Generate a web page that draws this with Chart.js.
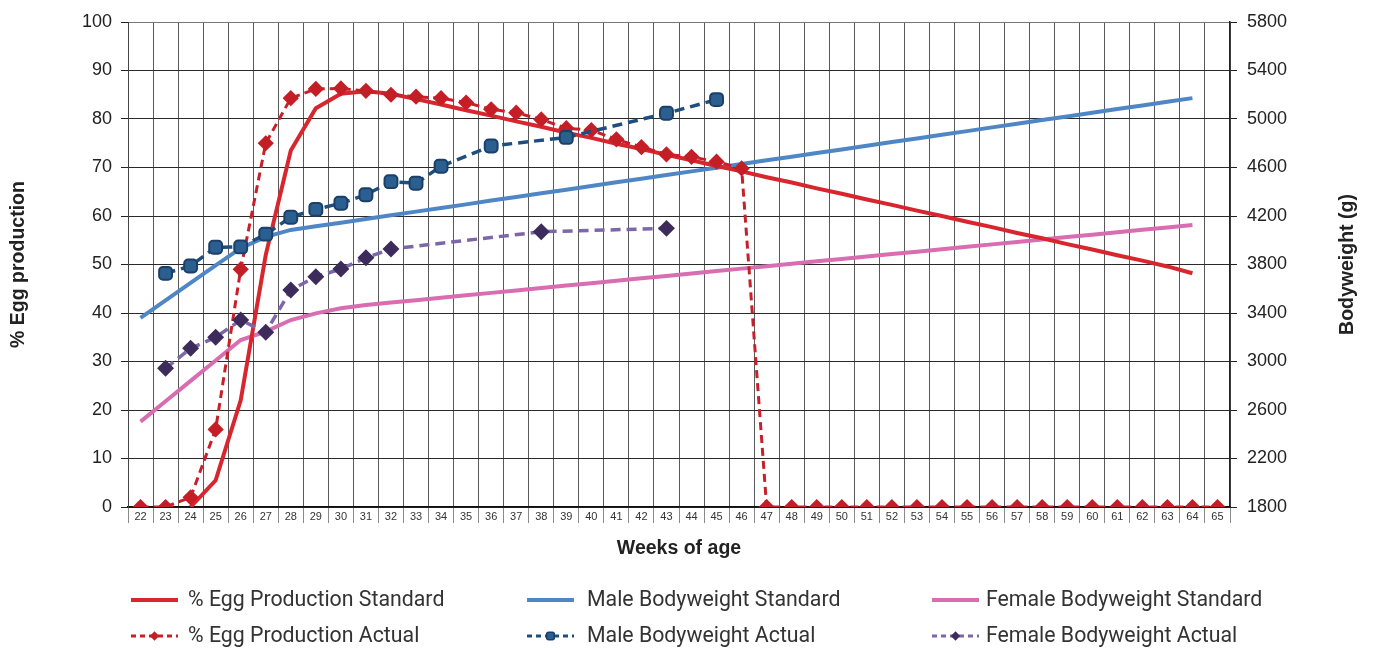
<!DOCTYPE html>
<html>
<head>
<meta charset="utf-8">
<script src="https://cdn.jsdelivr.net/npm/chart.js@4.4.1/dist/chart.umd.min.js"></script>
<style>
  html, body { margin: 0; padding: 0; background: #ffffff; }
  #wrap { width: 1375px; height: 648px; }
</style>
</head>
<body>
<div id="wrap"><canvas id="c" width="1375" height="648"></canvas></div>
<script>
const weeks = ['22','23','24','25','26','27','28','29','30','31','32','33','34','35','36','37','38','39','40','41','42','43','44','45','46','47','48','49','50','51','52','53','54','55','56','57','58','59','60','61','62','63','64','65'];

const eggStandard = [null,null,0,5.5,22,52,73.5,82.2,85.2,85.7,85.2,84.1,83.0,81.8,80.7,79.5,78.4,77.2,76.1,74.9,73.8,72.6,71.5,70.3,69.2,68.0,66.9,65.7,64.6,63.4,62.3,61.1,60.0,58.8,57.7,56.5,55.4,54.2,53.1,51.9,50.8,49.6,48.2,null];

const eggActual = [0,0,2,16,49,75,84.3,86.2,86.3,85.8,85.0,84.6,84.3,83.4,82.0,81.3,79.9,78.1,77.7,75.8,74.2,72.7,72.2,71.2,69.8,0,0,0,0,0,0,0,0,0,0,0,0,0,0,0,0,0,0,0];

const maleStandard = [3360,3505,3648,3792,3935,4028,4085,4115,4145,4176,4206,4236,4266,4296,4327,4357,4387,4417,4447,4478,4508,4538,4568,4598,4629,4659,4689,4719,4749,4780,4810,4840,4870,4900,4931,4961,4991,5021,5051,5082,5112,5142,5172,null];

const maleActual = [null,3727,3788,3942,3945,4050,4190,4255,4305,4375,4483,4470,4610,null,4777,null,null,4848,null,null,null,5047,null,5160,null,null,null,null,null,null,null,null,null,null,null,null,null,null,null,null,null,null,null,null];

const femaleStandard = [2504,2672,2840,3008,3177,3246,3342,3397,3439,3466,3486,3506,3526,3546,3566,3586,3606,3626,3646,3666,3686,3706,3726,3746,3766,3786,3806,3826,3846,3866,3886,3906,3926,3946,3966,3986,4006,4026,4046,4066,4086,4106,4126,null];

const femaleActual = [null,2944,3109,3200,3342,3241,3590,3699,3763,3855,3928,null,null,null,null,null,4070,null,null,null,null,4098,null,null,null,null,null,null,null,null,null,null,null,null,null,null,null,null,null,null,null,null,null,null];

const seriesLabels = ['% Egg Production Standard','Male Bodyweight Standard','Female Bodyweight Standard','% Egg Production Actual','Male Bodyweight Actual','Female Bodyweight Actual'];

const FONT = '"Liberation Sans", Arial, sans-serif';

function drawMarker(ctx, style, x, y, r, fill, stroke) {
  ctx.beginPath();
  if (style === 'rectRot') {
    ctx.moveTo(x - r, y); ctx.lineTo(x, y - r); ctx.lineTo(x + r, y); ctx.lineTo(x, y + r); ctx.closePath();
  } else {
    const h = r * 0.85, c = r * 0.45;
    ctx.moveTo(x - h + c, y - h);
    ctx.arcTo(x + h, y - h, x + h, y + h, c);
    ctx.arcTo(x + h, y + h, x - h, y + h, c);
    ctx.arcTo(x - h, y + h, x - h, y - h, c);
    ctx.arcTo(x - h, y - h, x + h, y - h, c);
    ctx.closePath();
  }
  ctx.fillStyle = fill; ctx.fill();
  ctx.lineWidth = 1.5; ctx.strokeStyle = stroke; ctx.stroke();
}

const extrasPlugin = {
  id: 'extras',
  afterDraw(chart) {
    const ctx = chart.ctx;
    const cols = [[131, 188], [527, 587], [932, 986]];
    const rows = [600, 636];
    chart.data.datasets.forEach((ds, i) => {
      const lx = cols[i % 3][0], tx = cols[i % 3][1];
      const y = rows[Math.floor(i / 3)];
      ctx.save();
      ctx.strokeStyle = ds.borderColor;
      ctx.lineWidth = ds.legendLineWidth;
      ctx.setLineDash(ds.legendDash);
      ctx.beginPath(); ctx.moveTo(lx, y); ctx.lineTo(lx + 47, y); ctx.stroke();
      ctx.setLineDash([]);
      if (ds.pointRadius > 0) {
        drawMarker(ctx, ds.pointStyle, lx + 23.5, y, ds.pointRadius * 0.6, ds.pointBackgroundColor, ds.pointBorderColor);
      }
      ctx.fillStyle = '#333333';
      ctx.font = '21.3px Roboto, "Liberation Sans", sans-serif';
      ctx.textBaseline = 'middle';
      ctx.textAlign = 'left';
      ctx.fillText(ds.label, tx, y + 1);
      ctx.restore();
    });
    // right axis title (reads bottom-to-top)
    const ca = chart.chartArea;
    ctx.save();
    ctx.translate(1348, (ca.top + ca.bottom) / 2);
    ctx.rotate(-Math.PI / 2);
    ctx.font = 'bold 19.5px ' + FONT;
    ctx.fillStyle = '#222';
    ctx.textAlign = 'center';
    ctx.textBaseline = 'middle';
    ctx.fillText('Bodyweight (g)', 0, 0);
    ctx.restore();
  }
};

const datasets = [
  { label: seriesLabels[0], data: eggStandard, yAxisID: 'y', borderColor: '#d7262e', borderWidth: 4, pointRadius: 0, order: 3, legendLineWidth: 4, legendDash: [] },
  { label: seriesLabels[1], data: maleStandard, yAxisID: 'y1', borderColor: '#4f87c6', borderWidth: 4, pointRadius: 0, order: 4, legendLineWidth: 4, legendDash: [] },
  { label: seriesLabels[2], data: femaleStandard, yAxisID: 'y1', borderColor: '#d96db1', borderWidth: 4, pointRadius: 0, order: 5, legendLineWidth: 4, legendDash: [] },
  { label: seriesLabels[3], data: eggActual, yAxisID: 'y', borderColor: '#c8202a', borderWidth: 3, borderDash: [8, 5], pointStyle: 'rectRot', pointRadius: 6, pointBackgroundColor: '#c41e26', pointBorderColor: '#c41e26', order: 2, spanGaps: true, legendLineWidth: 3, legendDash: [5, 4] },
  { label: seriesLabels[4], data: maleActual, yAxisID: 'y1', borderColor: '#1f4e7e', borderWidth: 3.5, borderDash: [10, 6], pointStyle: 'rectRounded', pointRadius: 7.5, pointBackgroundColor: '#2b5f90', pointBorderColor: '#1b3f69', pointBorderWidth: 2, order: 1, spanGaps: true, legendLineWidth: 3, legendDash: [5, 4] },
  { label: seriesLabels[5], data: femaleActual, yAxisID: 'y1', borderColor: '#7d66aa', borderWidth: 3.5, borderDash: [10, 6], pointStyle: 'rectRot', pointRadius: 6, pointBackgroundColor: '#3d2b5c', pointBorderColor: '#3d2b5c', order: 0, spanGaps: true, legendLineWidth: 3, legendDash: [5, 4] }
];

new Chart(document.getElementById('c'), {
  type: 'line',
  data: { labels: weeks, datasets: datasets },
  options: {
    responsive: false,
    animation: false,
    devicePixelRatio: 1,
    layout: { padding: { top: 22, left: 0, right: 0, bottom: 0 } },
    elements: { line: { tension: 0 }, point: { hoverRadius: 6 } },
    plugins: { legend: { display: false }, tooltip: { enabled: false } },
    scales: {
      x: {
        type: 'category',
        offset: true,
        grid: { offset: true, color: '#5a5a5a', lineWidth: 1, tickLength: 16, tickColor: '#8a8a8a' },
        border: { display: true, color: '#111', width: 1.5 },
        ticks: { font: { family: FONT, size: 11 }, color: '#333', padding: -13, maxRotation: 0, autoSkip: false },
        title: { display: true, text: 'Weeks of age', font: { family: FONT, size: 19.5, weight: 'bold' }, color: '#222', padding: { top: 0, bottom: 88 } },
        afterFit(scale) { scale.height = 141; }
      },
      y: {
        position: 'left',
        min: 0, max: 100,
        ticks: { stepSize: 10, font: { family: FONT, size: 18 }, color: '#222', padding: 9 },
        grid: { color: (c) => c.tick && c.tick.value === 100 ? '#777' : '#2a2a2a', lineWidth: 1, tickLength: 7, tickColor: '#222' },
        border: { display: true, color: '#444', width: 1 },
        title: { display: true, text: '% Egg production', font: { family: FONT, size: 19.5, weight: 'bold' }, color: '#222', padding: { top: 7, bottom: 0 } },
        afterFit(scale) { scale.width = 128; }
      },
      y1: {
        position: 'right',
        min: 1800, max: 5800,
        ticks: { stepSize: 400, font: { family: FONT, size: 18 }, color: '#222', padding: 10, callback: (v) => String(v) },
        grid: { drawOnChartArea: false, tickLength: 7, tickColor: '#222' },
        border: { display: true, color: '#222', width: 1.5 },
        afterFit(scale) { scale.width = 145; }
      }
    }
  },
  plugins: [extrasPlugin]
});
</script>
</body>
</html>
